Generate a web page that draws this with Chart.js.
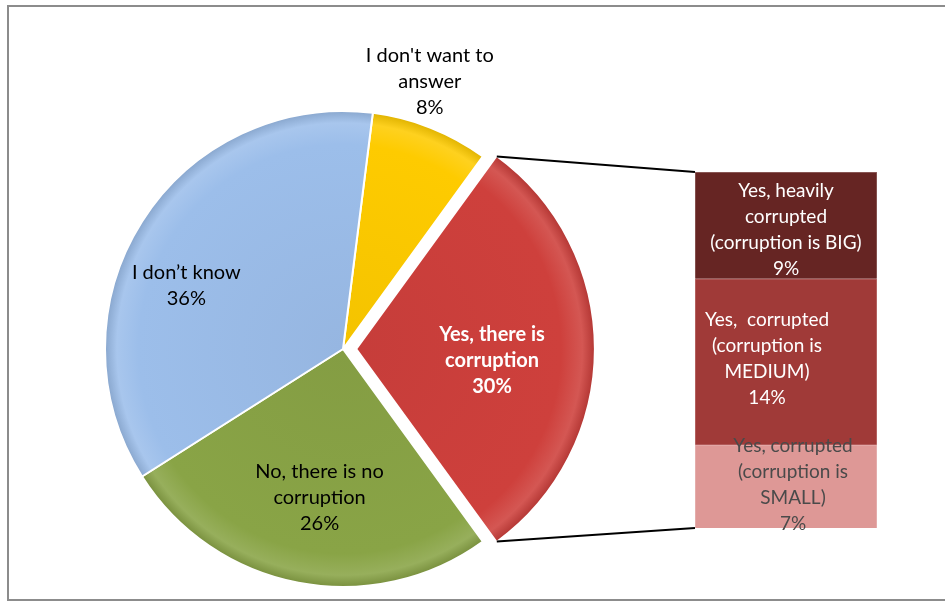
<!DOCTYPE html>
<html>
<head>
<meta charset="utf-8">
<script src="https://cdn.jsdelivr.net/npm/chart.js@4.4.0/dist/chart.umd.min.js"></script>
<style>
    body { margin: 0; background: #fff; }
    #wrap { position: relative; width: 945px; height: 605px; overflow: hidden; }
    #frame { position: absolute; left: 7px; top: 5px; width: 960px; height: 596px; border: 2px solid #8c8c8c; box-sizing: border-box; }
    canvas { position: absolute; left: 0; top: 0; }
</style>
</head>
<body>
<div id="wrap">
    <div id="frame"></div>
    <canvas id="pie" width="945" height="605"></canvas>
    <canvas id="bar" width="945" height="605"></canvas>
</div>
<script>
// 汚職についての回答（円グラフ）
const pieLabels = [["I don't want to", "answer"], ["Yes, there is", "corruption"], ["No, there is no", "corruption"], ["I don’t know"]];
const pieValues = [8, 30, 26, 36];
const pieColors = [[254, 203, 0], [206, 64, 60], [137, 164, 70], [156, 190, 234]];

// 「Yes」の内訳（積み上げ棒）— 下から順に
const barLabels = [["Yes, corrupted", "(corruption is", "SMALL)"], ["Yes,  corrupted", "(corruption is", "MEDIUM)"], ["Yes, heavily", "corrupted", "(corruption is BIG)"]];
const barValues = [7, 14, 9];
const barColors = [[222, 152, 150], [160, 58, 56], [102, 37, 35]];

const FONT = 'Lato, "Open Sans", sans-serif';
const PIE_RADIUS = 238;

// ラベル位置（角度[度], 半径比）
const pieLabelPos = [
    { angle: -72, dist: 1.18, color: '#000', bold: false },
    { angle: 5, dist: 0.57, color: '#fff', bold: true },
    { angle: 99, dist: 0.63, color: '#000', bold: false },
    { angle: 202, dist: 0.71, color: '#000', bold: false }
];
const barLabelPos = [
    { dx: 7, dy: -2, color: '#4a4a4a' },
    { dx: -19, dy: -3, color: '#fff' },
    { dx: 0, dy: 4, color: '#fff' }
];

function rgb(c, k) {
    // k > 0 で明るく、k < 0 で暗く
    const f = v => Math.round(k >= 0 ? v + (255 - v) * k : v * (1 + k));
    return `rgb(${f(c[0])},${f(c[1])},${f(c[2])})`;
}

function drawLines(ctx, lines, x, y, lh, font, color) {
    ctx.save();
    ctx.font = font;
    ctx.fillStyle = color;
    ctx.textAlign = 'center';
    ctx.textBaseline = 'middle';
    const top = y - (lines.length - 1) * lh / 2;
    lines.forEach((t, i) => ctx.fillText(t, x, top + i * lh));
    ctx.restore();
}

// 切り出した扇形の移動量（ArcElement.draw と同じ計算）
function arcShift(arc) {
    const off = (arc.options.offset || 0) / 4;
    const circ = arc.endAngle - arc.startAngle;
    const fix = 1 - Math.sin(Math.min(Math.PI, circ));
    const total = off * (1 + fix);
    const half = (arc.startAngle + arc.endAngle) / 2;
    return { x: Math.cos(half) * total, y: Math.sin(half) * total };
}

// 扇形の立体感（縁を少し明るく）
function pieFill(c) {
    const base = pieColors[c.dataIndex];
    const area = c.chart.chartArea;
    if (!area) return rgb(base, 0);
    const cx = (area.left + area.right) / 2;
    const cy = (area.top + area.bottom) / 2;
    const g = c.chart.ctx.createRadialGradient(cx, cy, 0, cx, cy, PIE_RADIUS);
    g.addColorStop(0, rgb(base, -0.04));
    g.addColorStop(0.86, rgb(base, 0));
    g.addColorStop(0.95, rgb(base, 0.12));
    g.addColorStop(1, rgb(base, -0.12));
    return g;
}

// 扇形の描画後にラベルを書く
const pieLabelPlugin = {
    id: 'pieLabels',
    afterDatasetsDraw(chart) {
        const ctx = chart.ctx;
        chart.getDatasetMeta(0).data.forEach((arc, i) => {
            const p = pieLabelPos[i];
            const shift = arcShift(arc);
            const a = p.angle * Math.PI / 180;
            const x = arc.x + shift.x + Math.cos(a) * arc.outerRadius * p.dist;
            const y = arc.y + shift.y + Math.sin(a) * arc.outerRadius * p.dist;
            const lines = pieLabels[i].concat([pieValues[i] + '%']);
            const font = (p.bold ? 'bold ' : '') + '20px ' + FONT;
            drawLines(ctx, lines, x, y, 26, font, p.color);
        });
    }
};

const pieChart = new Chart(document.getElementById('pie'), {
    type: 'pie',
    data: {
        labels: pieLabels.map(l => l.join(' ')),
        datasets: [{
            data: pieValues,
            backgroundColor: pieFill,
            borderColor: '#ffffff',
            borderWidth: 2,
            offset: [0, 53, 0, 0]
        }]
    },
    options: {
        responsive: false,
        animation: false,
        events: [],
        rotation: 7.2,
        radius: PIE_RADIUS,
        layout: { padding: { left: 0, right: 259, top: 93, bottom: 0 } },
        plugins: { legend: { display: false }, tooltip: { enabled: false } }
    },
    plugins: [pieLabelPlugin]
});

// 棒の塗り（上端を明るく）
function barFill(c) {
    const base = barColors[c.datasetIndex];
    const el = c.element;
    if (!el || el.base === undefined || isNaN(el.y)) return rgb(base, 0);
    const g = c.chart.ctx.createLinearGradient(0, el.y, 0, el.base);
    g.addColorStop(0, rgb(base, 0.22));
    g.addColorStop(0.12, rgb(base, 0.05));
    g.addColorStop(0.85, rgb(base, 0));
    g.addColorStop(1, rgb(base, -0.1));
    return g;
}

// 棒のラベルと円グラフへの接続線
const barPlugin = {
    id: 'barExtras',
    afterDatasetsDraw(chart) {
        const ctx = chart.ctx;
        chart.data.datasets.forEach((ds, i) => {
            const el = chart.getDatasetMeta(i).data[0];
            const p = barLabelPos[i];
            const cx = el.x + p.dx;
            const cy = (el.y + el.base) / 2 + p.dy;
            const lines = barLabels[i].concat([barValues[i] + '%']);
            drawLines(ctx, lines, cx, cy, 26, '19px ' + FONT, p.color);
        });
        // 接続線
        const arc = pieChart.getDatasetMeta(0).data[1];
        const s = arcShift(arc);
        const r = arc.outerRadius;
        const top = chart.getDatasetMeta(2).data[0];
        const bottom = chart.getDatasetMeta(0).data[0];
        const left = top.x - top.width / 2;
        ctx.save();
        ctx.strokeStyle = '#000';
        ctx.lineWidth = 2;
        ctx.beginPath();
        ctx.moveTo(arc.x + s.x + Math.cos(arc.startAngle) * r, arc.y + s.y + Math.sin(arc.startAngle) * r);
        ctx.lineTo(left, top.y);
        ctx.moveTo(arc.x + s.x + Math.cos(arc.endAngle) * r, arc.y + s.y + Math.sin(arc.endAngle) * r);
        ctx.lineTo(left, bottom.base);
        ctx.stroke();
        ctx.restore();
    }
};

new Chart(document.getElementById('bar'), {
    type: 'bar',
    data: {
        labels: ['Yes'],
        datasets: barValues.map((v, i) => ({
            data: [v],
            backgroundColor: barFill,
            borderColor: rgb(barColors[i], 0.3),
            borderWidth: 1,
            barPercentage: 1,
            categoryPercentage: 1
        }))
    },
    options: {
        responsive: false,
        animation: false,
        events: [],
        layout: { padding: { left: 695, right: 68, top: 172, bottom: 77 } },
        scales: {
            x: { display: false, stacked: true },
            y: { display: false, stacked: true, min: 0, max: 30 }
        },
        plugins: { legend: { display: false }, tooltip: { enabled: false } }
    },
    plugins: [barPlugin]
});
</script>
</body>
</html>
